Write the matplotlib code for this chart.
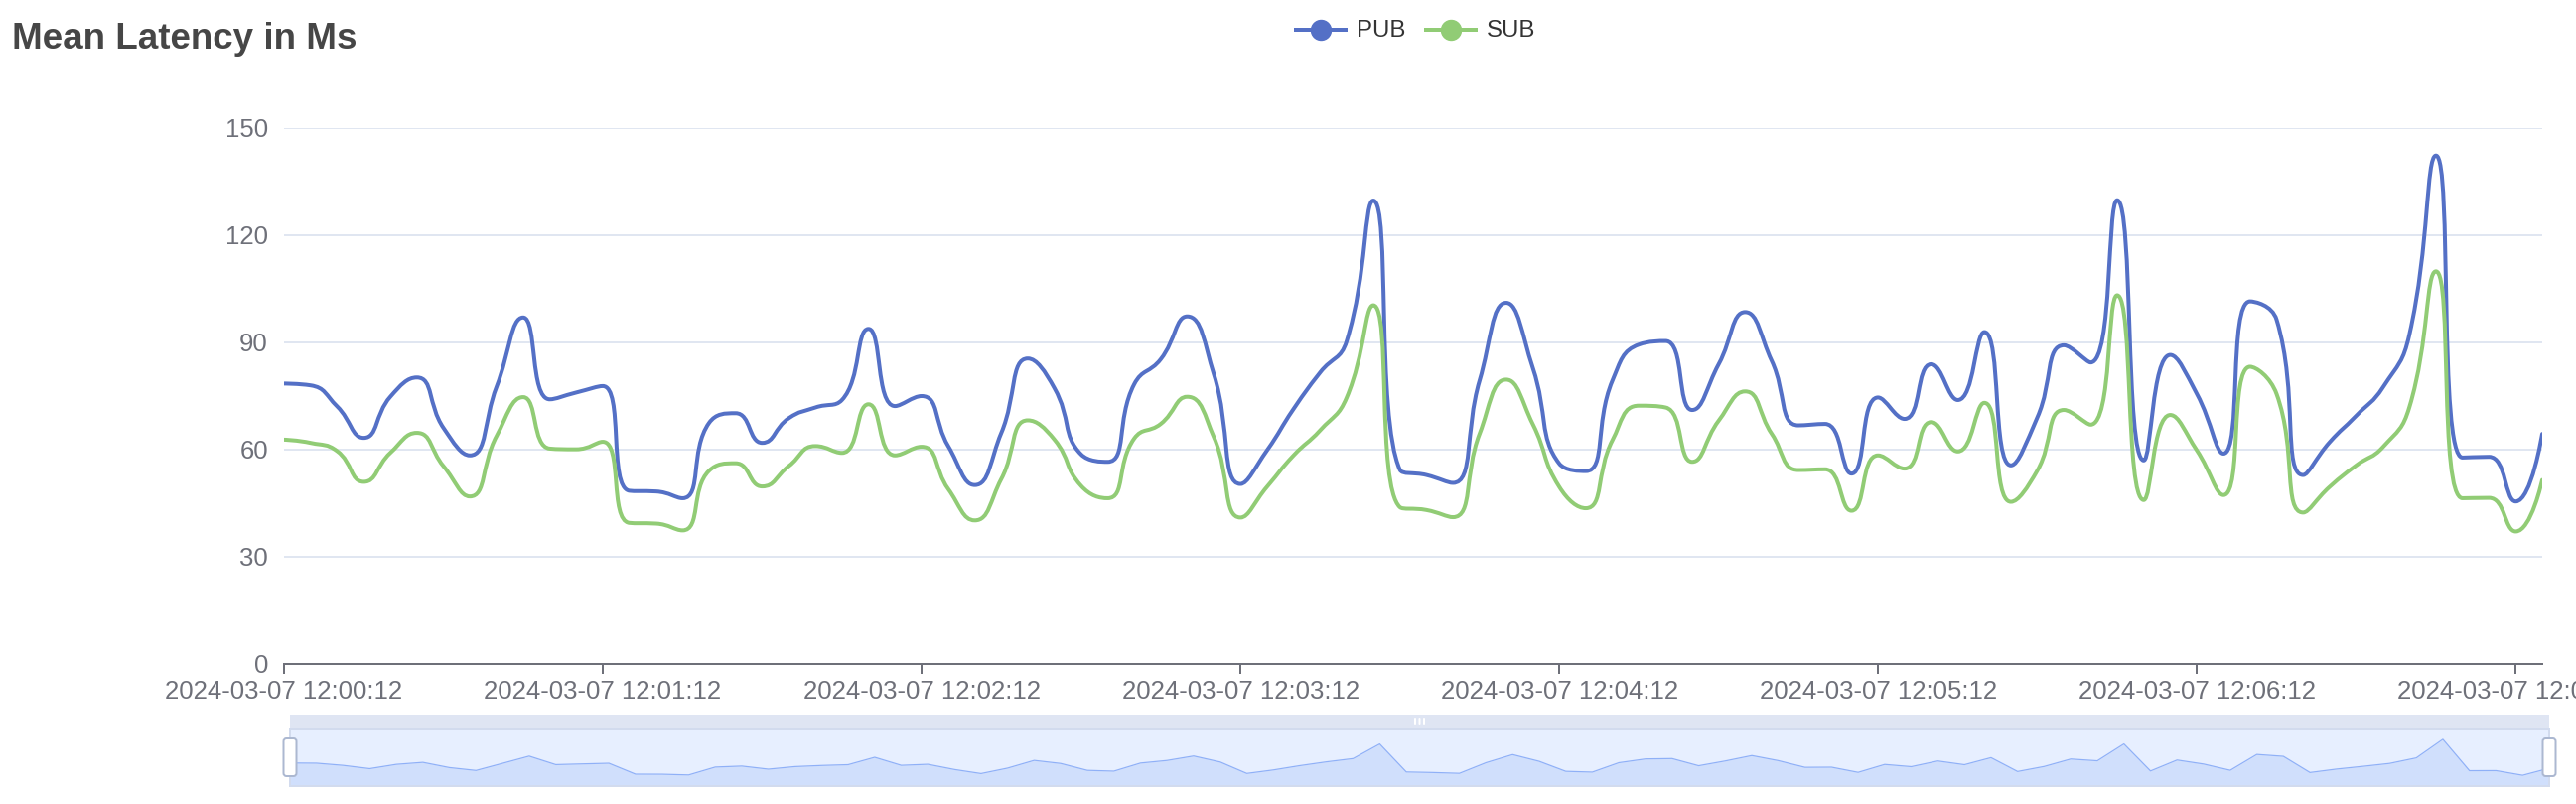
import numpy as np
import pandas as pd
import matplotlib
matplotlib.use("Agg")
import matplotlib.pyplot as plt
from matplotlib.path import Path
from matplotlib.patches import PathPatch, FancyBboxPatch, Rectangle
from matplotlib.lines import Line2D

# mean latency (ms), one sample every 5 s
pub = [78.5, 78.0, 72.1, 63.3, 74.8, 80.2, 66.1, 58.4, 77.6, 97.0,
       74.1, 76.0, 77.8, 48.5, 48.3, 46.4, 67.5, 70.2, 61.9, 68.8,
       71.8, 73.9, 93.8, 72.2, 75.0, 61.0, 50.1, 64.7, 85.5, 77.2,
       58.7, 56.6, 78.3, 85.3, 97.3, 81.1, 50.4, 59.8, 71.4, 81.6,
       90.4, 129.7, 54.4, 52.9, 50.7, 79.3, 101.1, 83.0, 56.1, 54.0,
       79.3, 89.4, 90.4, 71.1, 83.9, 98.5, 84.8, 66.8, 67.2, 53.3,
       74.6, 68.6, 83.9, 73.9, 92.9, 55.6, 69.1, 89.2, 84.4, 129.8,
       57.0, 86.5, 75.6, 58.9, 101.5, 96.4, 52.9, 62.1, 69.5, 77.4,
       92.2, 142.3, 57.8, 58.0, 45.5, 64.4]
sub = [62.8, 61.9, 59.6, 51.0, 59.1, 64.7, 55.4, 46.9, 63.8, 74.7,
       60.3, 60.1, 62.2, 39.5, 39.3, 37.4, 54.1, 56.2, 49.7, 55.4,
       61.0, 59.1, 72.7, 58.4, 60.8, 49.0, 40.2, 51.8, 68.2, 62.8,
       49.9, 46.4, 63.1, 67.2, 74.8, 63.5, 41.0, 49.6, 58.4, 65.4,
       74.6, 100.4, 43.9, 43.1, 41.1, 64.4, 79.6, 67.2, 49.6, 43.6,
       62.6, 72.3, 71.8, 56.6, 68.1, 76.3, 64.4, 54.3, 54.5, 42.9,
       58.4, 54.7, 67.7, 59.5, 73.1, 45.4, 54.2, 71.1, 67.0, 103.2,
       45.9, 69.7, 59.8, 47.3, 83.2, 75.6, 42.4, 49.6, 55.6, 60.7,
       71.9, 109.9, 46.4, 46.5, 37.1, 51.5]
times = pd.date_range("2024-03-07 12:00:12", periods=len(pub), freq="5s")
time_labels = list(times.strftime("%Y-%m-%d %H:%M:%S"))
y_ticks = [0, 30, 60, 90, 120, 150]
series_names = ["PUB", "SUB"]
colors = ["#5470C6", "#91CC75"]

W, H = 2594, 810
plt.rcParams['font.family'] = ['Liberation Sans', 'DejaVu Sans']
PX = 0.72  # points per pixel at dpi 100

fig = plt.figure(figsize=(W / 100, H / 100), dpi=100)


def box(x0, y0, x1, y1):
    return [x0 / W, 1 - y1 / H, (x1 - x0) / W, (y1 - y0) / H]


def smooth_path(ax, xs, ys, smooth=0.5):
    # echarts-like bezier smoothing, done in pixel space
    pts = ax.transData.transform(np.column_stack([xs, ys]))
    verts = [pts[0]]
    codes = [Path.MOVETO]
    cp0 = pts[0]
    n = len(pts)
    for i in range(1, n):
        px, py = pts[i - 1]
        x, y = pts[i]
        if i == n - 1:
            cp1, ncp0 = (x, y), None
        else:
            nx, ny = pts[i + 1]
            vx, vy = nx - px, ny - py
            l0 = np.hypot(x - px, y - py)
            l1 = np.hypot(nx - x, ny - y)
            r = l1 / (l0 + l1)
            ncx, ncy = x + vx * smooth * r, y + vy * smooth * r
            ncx = max(min(ncx, max(nx, x)), min(nx, x))
            ncy = max(min(ncy, max(ny, y)), min(ny, y))
            vx, vy = ncx - x, ncy - y
            c1x, c1y = x - vx * l0 / l1, y - vy * l0 / l1
            c1x = max(min(c1x, max(px, x)), min(px, x))
            c1y = max(min(c1y, max(py, y)), min(py, y))
            vx, vy = x - c1x, y - c1y
            ncx, ncy = x + vx * l1 / l0, y + vy * l1 / l0
            cp1, ncp0 = (c1x, c1y), (ncx, ncy)
        verts += [cp0, cp1, (x, y)]
        codes += [Path.CURVE4] * 3
        cp0 = ncp0
    return Path(ax.transData.inverted().transform(np.array(verts)), codes)


# main chart
ax = fig.add_axes(box(286, 129, 2560, 669))
x = np.arange(len(pub))
ax.set_xlim(0, len(pub) - 1)
ax.set_ylim(0, 150)
ax.set_yticks(y_ticks)
ax.set_yticklabels([str(v) for v in y_ticks])
ax.grid(axis='y', color='#E0E6F1', lw=2 * PX)
ax.set_axisbelow(True)
for s in ['top', 'right', 'left']:
    ax.spines[s].set_visible(False)
ax.spines['bottom'].set_color('#6E7079')
ax.spines['bottom'].set_linewidth(2 * PX)
ax.spines['bottom'].set_zorder(3)
tick_idx = list(range(0, len(pub), 12))
ax.set_xticks(tick_idx)
ax.set_xticklabels([time_labels[i] for i in tick_idx])
ax.tick_params(axis='x', direction='out', length=10 * PX, width=2 * PX,
               color='#6E7079', labelcolor='#6E7079', labelsize=18.5, pad=4)
ax.tick_params(axis='y', length=0, labelcolor='#6E7079', labelsize=18.5, pad=16 * PX)
for t in ax.get_xticklabels():
    t.set_clip_on(False)

for vals, c in zip([pub, sub], colors):
    ax.add_patch(PathPatch(smooth_path(ax, x, vals), fill=False, edgecolor=c,
                           lw=4 * PX, joinstyle='round', capstyle='round', zorder=4))

# data zoom slider
sx0, sx1, sy0, sy1 = 292, 2567, 734, 792
axs = fig.add_axes(box(sx0, sy0, sx1, sy1))
lo, hi = min(pub), max(pub)
pad = (hi - lo) * 0.3
axs.set_xlim(0, len(pub) - 1)
axs.set_ylim(lo - pad, hi + pad)
axs.set_facecolor('#E7EFFF')
axs.fill_between(x, pub, lo - pad, color='#8FB0F7', alpha=0.25, lw=0)
axs.plot(x, pub, color='#8FB0F7', lw=1.2 * PX)
axs.set_xticks([])
axs.set_yticks([])
for s in axs.spines.values():
    s.set_color('#D2DBEE')
    s.set_linewidth(2 * PX)

# overlay in pixel coords for title, legend, slider decorations
ov = fig.add_axes([0, 0, 1, 1], zorder=10)
ov.set_xlim(0, W)
ov.set_ylim(H, 0)
ov.axis('off')
ov.patch.set_visible(False)

ov.text(12, 49, "Mean Latency in Ms", fontsize=26.5, fontweight='bold',
        color='#464646', va='baseline', ha='left')

leg_x = [1305, 1436]
for lx, name, c in zip(leg_x, series_names, colors):
    ov.add_line(Line2D([lx, lx + 50], [30, 30], color=c, lw=4 * PX))
    ov.plot([lx + 25], [30], 'o', color=c, ms=20 * PX, mec=c)
    ov.text(lx + 61, 31, name, fontsize=17.3, color='#333333', va='center', ha='left')

ov.add_patch(Rectangle((sx0, 720), sx1 - sx0, 14, color='#D2DBEE', alpha=0.7, lw=0))
mid = (sx0 + sx1) / 2
for dx in (-4.5, 0, 4.5):
    ov.add_patch(FancyBboxPatch((mid + dx - 1, 723), 2, 7, boxstyle='round,pad=0,rounding_size=1',
                                color='white', lw=0))
for hx in (sx0, sx1):
    ov.add_patch(FancyBboxPatch((hx - 6.5, 744), 13, 38, boxstyle='round,pad=0,rounding_size=3',
                                facecolor='white', edgecolor='#ACB8D1', lw=2 * PX))

fig.savefig("out.png", dpi=100)
